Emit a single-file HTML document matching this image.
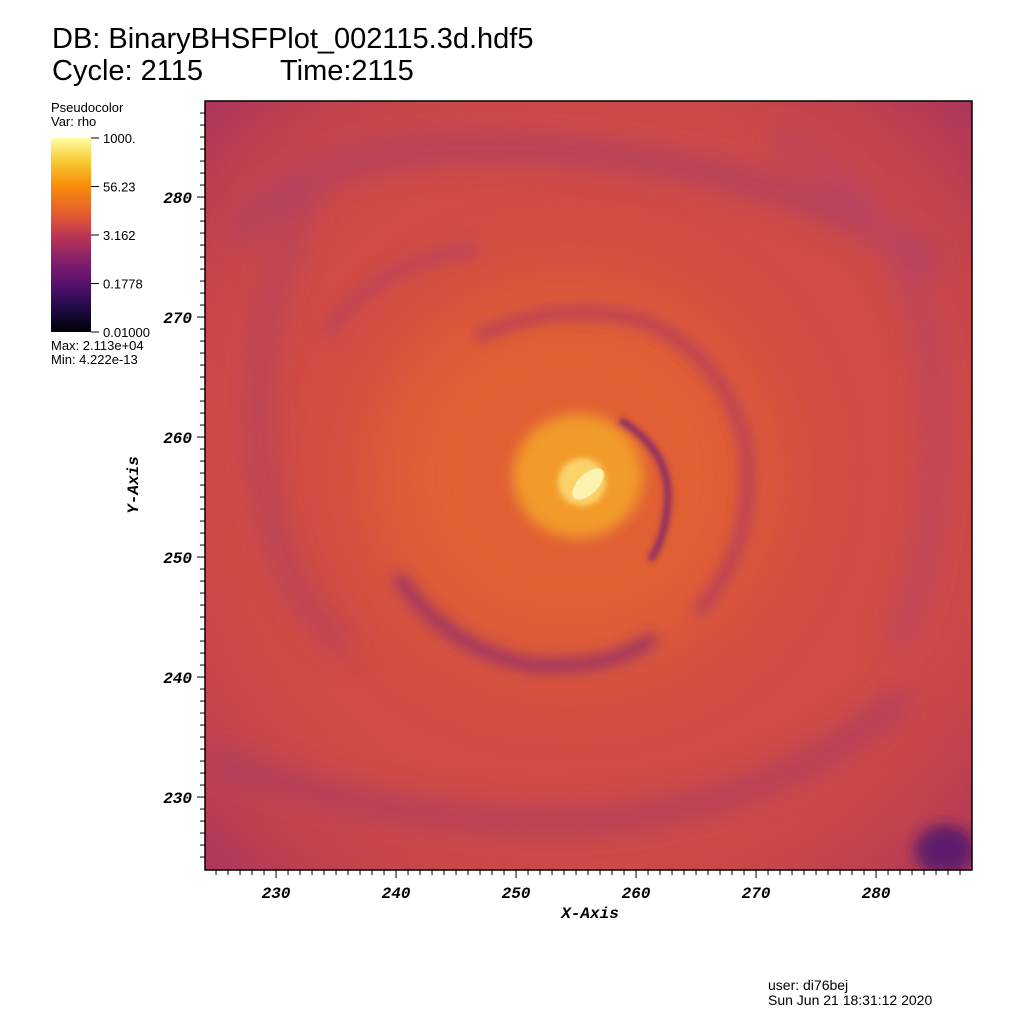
<!DOCTYPE html>
<html><head><meta charset="utf-8"><style>
body{margin:0;background:#fff;width:1024px;height:1024px;overflow:hidden;font-family:"Liberation Sans",sans-serif}
svg text{font-family:"Liberation Sans",sans-serif}
.ax{font-family:"Liberation Mono",monospace;font-weight:bold;font-style:italic;font-size:16px}
</style></head><body>
<svg id="s" width="1024" height="1024" xmlns="http://www.w3.org/2000/svg">
<defs>
<filter id="b1" x="-20%" y="-20%" width="140%" height="140%"><feGaussianBlur stdDeviation="14"/></filter>
<filter id="b2" x="-20%" y="-20%" width="140%" height="140%"><feGaussianBlur stdDeviation="7"/></filter>
<filter id="b4" x="-20%" y="-20%" width="140%" height="140%"><feGaussianBlur stdDeviation="3"/></filter>
<filter id="b3" x="-50%" y="-50%" width="200%" height="200%"><feGaussianBlur stdDeviation="40"/></filter>
<radialGradient id="edge" cx="0.5" cy="0.5" r="0.72">
<stop offset="0.55" stop-color="#d04c45" stop-opacity="0"/><stop offset="1" stop-color="#a8335e"/></radialGradient>
<linearGradient id="cb" x1="0" y1="0" x2="0" y2="1">
<stop offset="0" stop-color="#fcfea4"/><stop offset="0.12" stop-color="#f8c932"/><stop offset="0.25" stop-color="#f98c0a"/>
<stop offset="0.4" stop-color="#e35932"/><stop offset="0.5" stop-color="#bc3754"/><stop offset="0.62" stop-color="#8a226a"/>
<stop offset="0.75" stop-color="#57106e"/><stop offset="0.87" stop-color="#210c4a"/><stop offset="1" stop-color="#000004"/></linearGradient>
<clipPath id="pc"><rect x="205" y="101" width="767" height="769"/></clipPath>
</defs>
<text x="52" y="48" font-size="29">DB: BinaryBHSFPlot_002115.3d.hdf5</text>
<text x="52" y="80" font-size="29">Cycle: 2115</text>
<text x="280" y="80" font-size="29">Time:2115</text>
<g clip-path="url(#pc)">
<rect x="205" y="101" width="767" height="769" fill="#d04c45"/>
<rect x="205" y="101" width="767" height="769" fill="url(#edge)"/>
<g filter="url(#b1)" fill="none" stroke-linecap="round">
<path d="M240 230 Q300 160 420 150 Q560 140 700 170 Q840 200 930 260" stroke="#b24060" stroke-width="26"/>
<path d="M320 170 Q250 300 260 450 Q270 580 340 640" stroke="#b8435a" stroke-width="24"/>
<path d="M215 760 Q400 830 600 820 Q780 805 900 700" stroke="#b03d5e" stroke-width="24"/>
<path d="M780 140 Q900 200 930 350 Q950 520 900 640" stroke="#bb4560" stroke-width="22"/>
</g>
<ellipse cx="945" cy="850" rx="30" ry="25" fill="#5e1a6c" filter="url(#b2)"/>
<ellipse cx="570" cy="475" rx="210" ry="200" fill="#e46330" opacity="0.85" filter="url(#b3)"/>
<g filter="url(#b2)" fill="none" stroke-linecap="round">
<path d="M480 335 Q560 300 640 320 Q720 350 745 440 Q760 540 700 610" stroke="#b83e5a" stroke-width="12"/>
<path d="M400 580 Q450 650 530 665 Q610 670 650 640" stroke="#9a3366" stroke-width="13"/>
<path d="M330 330 Q380 260 470 250" stroke="#bf4458" stroke-width="14"/>
</g>
<ellipse cx="578" cy="476" rx="65" ry="62" fill="#f29b2c" filter="url(#b2)"/>
<path d="M620 420 Q670 450 668 500 Q665 540 650 560" stroke="#8a2a66" stroke-width="7" fill="none" filter="url(#b4)"/>
<ellipse cx="582" cy="482" rx="24" ry="24" fill="#fbd16a" filter="url(#b4)"/>
<ellipse cx="588" cy="484" rx="10" ry="20" fill="#fdf2b0" transform="rotate(45 588 484)"/>
</g>
<rect x="205" y="101" width="767" height="769" fill="none" stroke="#000" stroke-width="1.5"/>
<g id="xt"></g>
<g id="yt"></g>
<text x="590" y="918" class="ax" text-anchor="middle">X-Axis</text>
<text transform="translate(138,485) rotate(-90)" class="ax" text-anchor="middle">Y-Axis</text>
<text x="51" y="112" font-size="13">Pseudocolor</text>
<text x="51" y="126" font-size="13">Var: rho</text>
<rect x="51" y="138" width="40" height="194" fill="url(#cb)"/>
<g id="cbt"></g>
<text x="51" y="350" font-size="13">Max:  2.113e+04</text>
<text x="51" y="364" font-size="13">Min:  4.222e-13</text>
<text x="768" y="990" font-size="14">user: di76bej</text>
<text x="768" y="1005" font-size="14">Sun Jun 21 18:31:12 2020</text>
</svg>
<script>
const xTicks=[230,240,250,260,270,280];
const yTicks=[230,240,250,260,270,280];
const cbLabels=["1000.","56.23","3.162","0.1778","0.01000"];
const NS="http://www.w3.org/2000/svg";
const X0=224.08,Y0=223.92,PX=205,PY=870,S=12;
const sx=v=>PX+(v-X0)*S, sy=v=>PY-(v-Y0)*S;
function mk(t,a,p){const e=document.createElementNS(NS,t);for(const k in a)e.setAttribute(k,a[k]);p.appendChild(e);return e;}
const xt=document.getElementById('xt'),yt=document.getElementById('yt'),cbt=document.getElementById('cbt');
for(let v=225;v<=287;v++){
 const maj=v%10===0;
 const l=mk('line',{x1:sx(v),x2:sx(v),y1:870,y2:870+(maj?8:5),stroke:'#000'},xt);
 
 
 const m=mk('line',{y1:sy(v),y2:sy(v),x1:205,x2:205-(maj?8:5),stroke:'#000'},yt);
 
 
}
xTicks.forEach(v=>{const t=mk('text',{x:sx(v),y:898,'text-anchor':'middle',class:'ax'},xt);t.textContent=v;
 
 });
yTicks.forEach(v=>{const t=mk('text',{x:192,y:sy(v)+6,'text-anchor':'end',class:'ax'},yt);t.textContent=v;
 
 });
cbLabels.forEach((s,i)=>{const y=138+i*48.5;
 const l=mk('line',{x1:91,x2:99,y1:y,y2:y,stroke:'#000'},cbt);
 
 
 const t=mk('text',{x:103,y:y+5,'font-size':13},cbt);t.textContent=s;
 
 });
</script>
</body></html>
